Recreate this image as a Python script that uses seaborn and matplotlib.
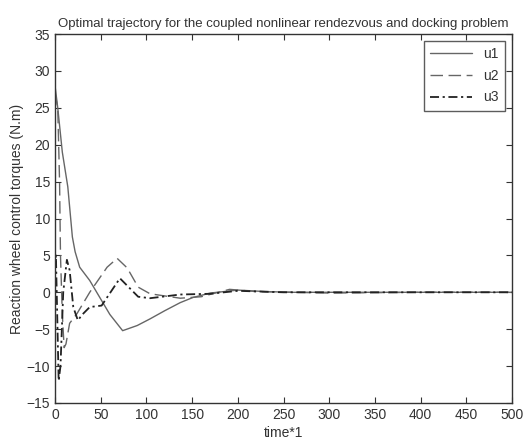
import numpy as np
import pandas as pd
import matplotlib
matplotlib.use("Agg")
import matplotlib.pyplot as plt
import seaborn as sns

t1 = [0, 1, 3, 8, 14, 19, 22, 27, 38, 49, 60, 74, 90, 104, 120, 137, 151, 170, 200, 230, 260, 300, 400, 500]
u1 = [28, 27, 25, 19, 14.3, 7.5, 5.5, 3.4, 1.6, -0.7, -3.0, -5.2, -4.5, -3.6, -2.5, -1.4, -0.7, -0.1, 0.3, 0.1, 0.0, 0.0, 0.0, 0.0]

t2 = [0, 3, 5, 6, 8, 10, 12, 16, 24, 38, 57, 68, 79, 91, 104, 137, 160, 191, 220, 260, 300, 400, 500]
u2 = [27, 25, 15, 5, -3, -7.5, -7, -4.2, -2.9, 0.0, 3.4, 4.6, 3.3, 0.7, -0.2, -0.8, -0.6, 0.4, 0.1, 0.0, -0.1, 0.0, 0.0]

t3 = [0, 1, 4, 6, 9, 13, 16, 20, 25, 30, 38, 51, 71, 91, 104, 137, 170, 200, 250, 300, 400, 500]
u3 = [3, 5, -12, -10, 0, 4.4, 3, -2, -3.8, -3, -2, -1.8, 1.9, -0.6, -0.8, -0.3, -0.2, 0.2, 0.0, 0.0, 0.0, 0.0]

title = "Optimal trajectory for the coupled nonlinear rendezvous and docking problem"
xlabel = "time*1"
ylabel = "Reaction wheel control torques (N.m)"

sns.set_style("ticks")
plt.rcParams['font.family'] = ['Liberation Sans', 'DejaVu Sans']

fig = plt.figure(figsize=(5.23, 4.41), dpi=100)
ax = fig.add_axes([55/523, 1 - 403/441, (512-55)/523, (403-34)/441])

sns.lineplot(x=t1, y=u1, ax=ax, color="#666666", lw=1.0, label="u1")
sns.lineplot(x=t2, y=u2, ax=ax, color="#666666", lw=1.0, label="u2")
sns.lineplot(x=t3, y=u3, ax=ax, color="#222222", lw=1.3, label="u3")
lines = ax.get_lines()
lines[1].set_dashes([9, 4])
lines[2].set_dashes([5, 2, 1.2, 2])

ax.set_xlim(0, 500)
ax.set_ylim(-15, 35)
ax.set_xticks(np.arange(0, 501, 50))
ax.set_yticks(np.arange(-15, 36, 5))
ax.tick_params(direction="in", top=True, right=True, labelsize=10, colors="#333333", length=4)
for s in ax.spines.values():
    s.set_color("#333333")
    s.set_linewidth(1.0)
ax.set_title(title, fontsize=9.5, color="#333333", pad=5)
ax.set_xlabel(xlabel, fontsize=10, color="#333333", labelpad=3)
ax.set_ylabel(ylabel, fontsize=10, color="#333333", labelpad=2)

leg = ax.legend(loc="upper right", fontsize=10, frameon=True, fancybox=False,
                edgecolor="#333333", handlelength=3, borderaxespad=0.5, labelspacing=0.55,
                borderpad=0.45)
leg.get_frame().set_linewidth(1.0)
for txt in leg.get_texts():
    txt.set_color("#333333")

fig.savefig("out.png", dpi=100, facecolor="white")
